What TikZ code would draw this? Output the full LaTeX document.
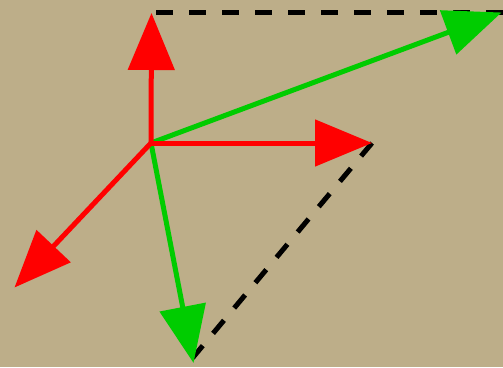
\documentclass[tikz,border=0pt]{standalone}
\usetikzlibrary{arrows.meta}
\definecolor{bgtan}{RGB}{189,174,137}
\definecolor{vred}{RGB}{255,0,0}
\definecolor{vgreen}{RGB}{0,204,0}
\tikzset{
  vec/.style={line width=5pt, -{Triangle[length=57pt,width=46pt]}},
  redvec/.style={vec, vred},
  greenvec/.style={vec, vgreen},
  guide/.style={line width=5pt, black, dash pattern=on 17pt off 16pt}
}
\begin{document}
\begin{tikzpicture}[x=1pt,y=-1pt]
\fill[bgtan] (0,0) rectangle (503,367);
\useasboundingbox (0,0) rectangle (503,367);
\coordinate (O) at (151,143);
\coordinate (U) at (151.5,13);
\coordinate (R) at (372,143);
\coordinate (L) at (14.5,287.5);
\coordinate (G1) at (501.5,12.5);
\coordinate (G2) at (193.5,363);
\coordinate (T0) at (156,12);
\coordinate (T1) at (503,12);
\coordinate (D1) at (192.5,358);
\draw[guide] (T0) -- (T1);
\draw[guide] (R) -- (D1);
\draw[greenvec] (O) -- (G1);
\draw[greenvec] (O) -- (G2);
\draw[redvec] (O) -- (U);
\draw[redvec] (O) -- (R);
\draw[redvec] (O) -- (L);
\end{tikzpicture}
\end{document}
